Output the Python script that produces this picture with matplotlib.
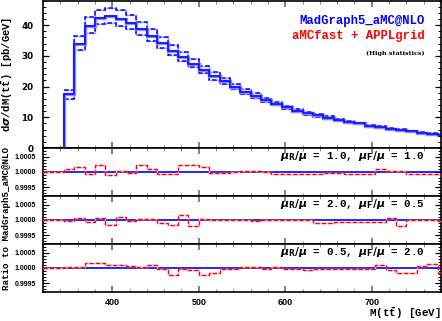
import numpy as np
import matplotlib
matplotlib.use('Agg')
import matplotlib.pyplot as plt
from matplotlib.ticker import MultipleLocator

# fonts: bold typewriter look for the labels
plt.rcParams['font.family'] = ['Liberation Mono', 'DejaVu Sans']
plt.rcParams['font.weight'] = 'bold'
plt.rcParams['mathtext.fontset'] = 'dejavusans'

# bin edges of M(tt) [GeV], 12 GeV wide
edges = np.arange(320, 789, 12)

# dsigma/dM [pb/GeV] for the bins starting at 344 GeV (first two bins empty)
nominal = [17.5, 34.0, 39.9, 42.4, 42.9, 42.0, 40.7, 38.6, 36.6, 34.1,
           31.7, 29.7, 27.5, 25.4, 23.5, 21.7, 19.9, 18.3, 16.9, 15.6,
           14.4, 13.2, 12.1, 11.3, 10.6, 9.9, 9.2, 8.6, 8.0, 7.3,
           6.8, 6.3, 5.9, 5.4, 5.0, 4.6, 4.3]
upper = [18.9, 36.5, 42.7, 45.1, 45.7, 44.8, 43.2, 41.0, 38.8, 36.0,
         33.4, 31.2, 28.9, 26.8, 24.7, 22.8, 20.9, 19.2, 17.8, 16.4,
         15.1, 13.8, 12.6, 11.8, 11.0, 10.3, 9.6, 8.9, 8.3, 7.6,
         7.1, 6.6, 6.1, 5.6, 5.2, 4.8, 4.5]
lower = [16.0, 31.8, 37.5, 40.3, 40.6, 39.9, 38.7, 36.8, 34.9, 32.6,
         30.3, 28.4, 26.4, 24.3, 22.3, 20.7, 19.1, 17.6, 16.3, 14.9,
         13.9, 12.7, 11.6, 10.9, 10.2, 9.5, 8.9, 8.3, 7.7, 7.0,
         6.5, 6.1, 5.7, 5.2, 4.8, 4.4, 4.1]

# aMCfast/MadGraph5 ratio deviation from 1, in units of 1e-4
dev_10_10 = [1.0, 1.7, -0.5, 2.4, -1.0, 0.2, -0.3, 2.2, 1.0, -0.7,
             -0.7, 2.2, 2.4, 1.8, -0.2, -0.2, 0.1, 0.2, 0.2, 0.1,
             -0.6, -0.5, -0.5, -0.5, -0.5, -0.4, -0.2, -0.7, -0.7, -0.7,
             1.0, 0.3, 0.3, -0.7, -0.7, -0.7, -1.0]
dev_20_05 = [-0.3, 0.6, -0.7, 0.6, -1.5, 1.0, -0.2, 0.2, 0.2, -1.0,
             -1.7, 1.6, -2.1, 0.3, 0.0, 0.0, 0.0, 0.0, -0.3, 0.0,
             0.0, 0.0, 0.0, 0.0, -1.1, -1.1, -0.8, -0.8, -0.8, -0.8,
             -0.8, 0.5, -2.1, 0.0, 0.0, 0.0, -0.2]
dev_05_20 = [0.2, 0.3, 1.5, 1.5, 1.0, 0.9, 0.7, 0.2, 1.1, -0.3,
             -2.4, -0.3, -0.7, -2.4, -1.8, -0.3, -0.3, 0.2, 0.2, -0.2,
             0.2, -0.3, -0.3, -0.8, -0.2, -0.2, -0.2, -0.2, -0.2, -0.2,
             0.9, -0.8, -1.7, -1.7, 0.6, 1.3, -1.8]

panel_labels = [r'$\mu_{\mathbf{R}}/\mu$ = 1.0, $\mu_{\mathbf{F}}/\mu$ = 1.0',
                r'$\mu_{\mathbf{R}}/\mu$ = 2.0, $\mu_{\mathbf{F}}/\mu$ = 0.5',
                r'$\mu_{\mathbf{R}}/\mu$ = 0.5, $\mu_{\mathbf{F}}/\mu$ = 2.0']
ratio_devs = [dev_10_10, dev_20_05, dev_05_20]

blue = '#0000ff'
red = '#ff0000'
dash = (0, (3, 1.6))

W, H = 442, 321
fig = plt.figure(figsize=(W / 100, H / 100), dpi=100)

left = 43 / W
width = 398 / W


def style_axes(ax):
    for s in ax.spines.values():
        s.set_linewidth(1.2)
    ax.tick_params(which='both', direction='in', top=True, right=True)
    ax.tick_params(which='major', length=4.5, width=0.9)
    ax.tick_params(which='minor', length=2.2, width=0.7)
    ax.tick_params(axis='x', which='both', color='#808080')
    ax.tick_params(axis='x', which='major', width=1.4)
    ax.xaxis.set_major_locator(MultipleLocator(100))
    ax.xaxis.set_minor_locator(MultipleLocator(20))
    ax.set_xlim(320, 780)


# main panel
ax = fig.add_axes([left, 1 - 148 / H, width, 148 / H - 0.002])
style_axes(ax)
pad2 = [np.nan, np.nan]
nom_full = np.array([0.0, 0.0] + nominal)
up_full = np.array(pad2 + upper)
lo_full = np.array(pad2 + lower)
for vals in (up_full, lo_full):
    ax.stairs(vals, edges, baseline=None, color='#a8a8ff', lw=1.0)
    ax.stairs(vals, edges, baseline=None, color=blue, lw=1.1, linestyle=dash)
ax.stairs(nom_full, edges, baseline=None, color='#8c8cff', lw=2.4)
ax.stairs(nom_full, edges, baseline=None, color=blue, lw=1.1)
ax.set_ylim(0, 48)
ax.yaxis.set_major_locator(MultipleLocator(10))
ax.yaxis.set_minor_locator(MultipleLocator(2))
ax.tick_params(axis='x', labelbottom=False)
ax.tick_params(axis='y', pad=7)
for t in ax.get_yticklabels():
    t.set_fontfamily('DejaVu Sans')
    t.set_fontsize(6.3)

ax.text(0.96, 0.865, 'MadGraph5_aMC@NLO', color=blue, fontsize=8.8,
        ha='right', va='center', transform=ax.transAxes)
ax.text(0.96, 0.757, 'aMCfast + APPLgrid', color=red, fontsize=8.8,
        ha='right', va='center', transform=ax.transAxes)
ax.text(0.96, 0.64, '(High statistics)', color='black', fontsize=4.6,
        ha='right', va='center', transform=ax.transAxes,
        fontfamily='DejaVu Serif')

# ratio panels
tops = [148, 196, 244]
for i, (dev, lab) in enumerate(zip(ratio_devs, panel_labels)):
    top = tops[i]
    rax = fig.add_axes([left, 1 - (top + 48) / H, width, 48 / H])
    style_axes(rax)
    ratio = 1 + np.array([0.0, 0.0] + dev) * 1e-4
    rax.axhline(1.0, color=blue, lw=1.2, zorder=2)
    rax.stairs(ratio, edges, baseline=None, color='#ffb4b4', lw=1.0, zorder=3)
    rax.stairs(ratio, edges, baseline=None, color=red, lw=1.0,
               linestyle=dash, zorder=4)
    rax.set_ylim(0.9992, 1.0008)
    rax.yaxis.set_major_locator(MultipleLocator(0.0005))
    rax.yaxis.set_minor_locator(MultipleLocator(0.0001))
    rax.yaxis.set_major_formatter(plt.FormatStrFormatter('%.4f'))
    rax.tick_params(axis='y', pad=5)
    for t in rax.get_yticklabels():
        t.set_fontfamily('Liberation Sans')
        t.set_fontsize(5.0)
    rax.text(0.96, 0.83, lab, fontsize=7.8, ha='right', va='center',
             transform=rax.transAxes)
    if i < 2:
        rax.tick_params(axis='x', labelbottom=False)
    else:
        rax.tick_params(axis='x', pad=4)
        for t in rax.get_xticklabels():
            t.set_fontfamily('Liberation Sans')
            t.set_fontsize(6.5)

fig.text(0.016, 1 - 74 / H, r'd$\sigma$/dM(t$\bar{\mathregular{t}}$) [pb/GeV]',
         rotation=90, ha='center', va='center', fontsize=7.6)
fig.text(0.014, 1 - 219 / H, 'Ratio to MadGraph5_aMC@NLO',
         rotation=90, ha='center', va='center', fontsize=6.6)
fig.text(0.997, 1 - 313 / H, r'M(t$\bar{\mathregular{t}}$) [GeV]',
         ha='right', va='center', fontsize=7.8)

fig.savefig('out.png', dpi=100)
